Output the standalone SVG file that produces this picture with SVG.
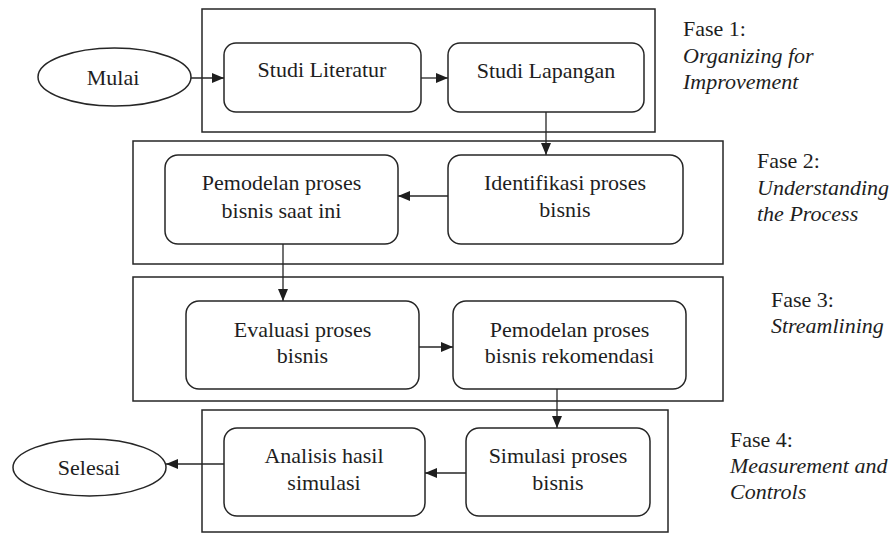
<svg xmlns="http://www.w3.org/2000/svg" width="891" height="534" viewBox="0 0 891 534">
<style>
  .phase{fill:none;stroke:#262626;stroke-width:1.5}
  .node{fill:#fff;stroke:#262626;stroke-width:1.5}
  text{font-family:'Liberation Serif','DejaVu Serif',serif;font-size:22px;fill:#1e1e1e}
  .c{text-anchor:middle}
  .i{font-style:italic}
  .conn{fill:none;stroke:#262626;stroke-width:1.3}
</style>
<defs>
  <marker id="arr" markerUnits="userSpaceOnUse" markerWidth="13" markerHeight="11" refX="12" refY="5" orient="auto">
    <path d="M0,0 L12,5 L0,10 z" fill="#1e1e1e"/>
  </marker>
</defs>
<rect width="891" height="534" fill="#fff"/>

<g id="phases">
  <rect id="phase1" class="phase" x="202" y="9" width="453" height="123"/>
  <rect id="phase2" class="phase" x="133" y="141" width="590" height="123"/>
  <rect id="phase3" class="phase" x="133" y="277" width="590" height="124"/>
  <rect id="phase4" class="phase" x="202" y="410" width="466" height="122"/>
</g>

<g id="labels" font-family="Liberation Serif, serif">
  <g id="label1"><text x="683" y="36">Fase 1:</text><text class="i" x="683" y="63">Organizing for</text><text class="i" x="683" y="89">Improvement</text></g>
  <g id="label2"><text x="757" y="168">Fase 2:</text><text class="i" x="757" y="195">Understanding</text><text class="i" x="757" y="221">the Process</text></g>
  <g id="label3"><text x="771" y="307">Fase 3:</text><text class="i" x="771" y="333">Streamlining</text></g>
  <g id="label4"><text x="730" y="447">Fase 4:</text><text class="i" x="730" y="473">Measurement and</text><text class="i" x="730" y="499">Controls</text></g>
</g>

<g id="connectors">
  <path class="conn" d="M191,78 H224" marker-end="url(#arr)"/>
  <path class="conn" d="M421,78 H448" marker-end="url(#arr)"/>
  <path class="conn" d="M546,112 V155" marker-end="url(#arr)"/>
  <path class="conn" d="M448,196 H398" marker-end="url(#arr)"/>
  <path class="conn" d="M283,244 V301" marker-end="url(#arr)"/>
  <path class="conn" d="M419,347 H453" marker-end="url(#arr)"/>
  <path class="conn" d="M557,389 V428" marker-end="url(#arr)"/>
  <path class="conn" d="M466,473 H425" marker-end="url(#arr)"/>
  <path class="conn" d="M224,464 H166" marker-end="url(#arr)"/>
</g>

<g id="mulai">
  <ellipse class="node" cx="114.5" cy="77" rx="76.5" ry="29"/>
  <text class="c" x="113" y="85">Mulai</text>
</g>
<g id="studi-literatur">
  <rect class="node" x="224" y="43" width="197" height="69" rx="12"/>
  <text class="c" x="322" y="77">Studi Literatur</text>
</g>
<g id="studi-lapangan">
  <rect class="node" x="448" y="43" width="196" height="69" rx="12"/>
  <text class="c" x="546" y="78">Studi Lapangan</text>
</g>
<g id="pemodelan-saat-ini">
  <rect class="node" x="165" y="155" width="233" height="89" rx="13"/>
  <text class="c" x="281.5" y="190">Pemodelan proses</text>
  <text class="c" x="281.5" y="218">bisnis saat ini</text>
</g>
<g id="identifikasi">
  <rect class="node" x="448" y="155" width="235" height="89" rx="13"/>
  <text class="c" x="565" y="190">Identifikasi proses</text>
  <text class="c" x="565" y="217">bisnis</text>
</g>
<g id="evaluasi">
  <rect class="node" x="186" y="301" width="233" height="88" rx="13"/>
  <text class="c" x="302.5" y="337">Evaluasi proses</text>
  <text class="c" x="302.5" y="363">bisnis</text>
</g>
<g id="pemodelan-rekomendasi">
  <rect class="node" x="453" y="301" width="233" height="88" rx="13"/>
  <text class="c" x="569.5" y="337">Pemodelan proses</text>
  <text class="c" x="569.5" y="363">bisnis rekomendasi</text>
</g>
<g id="simulasi">
  <rect class="node" x="466" y="428" width="184" height="88" rx="13"/>
  <text class="c" x="558" y="463">Simulasi proses</text>
  <text class="c" x="558" y="490">bisnis</text>
</g>
<g id="analisis">
  <rect class="node" x="224" y="428" width="201" height="88" rx="13"/>
  <text class="c" x="324" y="463">Analisis hasil</text>
  <text class="c" x="324" y="490">simulasi</text>
</g>
<g id="selesai">
  <ellipse class="node" cx="89.5" cy="467.5" rx="76.5" ry="28.5"/>
  <text class="c" x="89" y="475">Selesai</text>
</g>
</svg>
